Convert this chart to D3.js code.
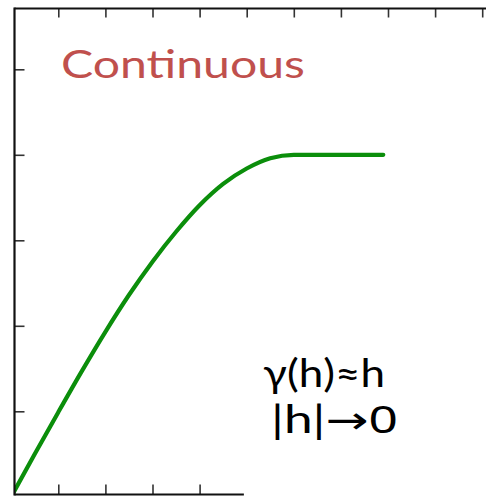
<!DOCTYPE html>
<html>
<head>
<meta charset="utf-8">
<script src="https://cdn.jsdelivr.net/npm/d3@7/dist/d3.min.js"></script>
<style>
  html, body { margin: 0; padding: 0; background: #fff; }
  svg { display: block; }
</style>
</head>
<body>
<svg id="chart" width="486" height="496"></svg>
<script>
// Spherical-type semivariogram: lag h vs. semivariance γ(h)
const lagValues   = [0, 0.5, 1, 1.5, 2, 2.5, 3, 3.5, 4, 4.5, 5, 5.5, 6, 7.9];
const gammaValues = [0, 0.50, 0.99, 1.47, 1.93, 2.36, 2.75, 3.10, 3.41, 3.66, 3.84, 3.96, 4.0, 4.0];

const topTicks    = [1, 2, 3, 4, 5, 6, 7, 8, 9, 10];
const bottomTicks = [1, 2, 3, 4];
const leftTicks   = [1, 2, 3, 4, 5];

const titleText = "Continuous";
// each annotation line split into runs; some runs use a different font
const noteLines = [
  [{ t: "γ(h)≈h" }],
  [{ t: "|h|" }, { t: "→", font: "'DejaVu Sans', sans-serif" }, { t: "0", font: "'Noto Sans', sans-serif" }]
];

const svg = d3.select("#chart");

const x = d3.scaleLinear().domain([0, 10]).range([11.2, 482.2]);
const y = d3.scaleLinear().domain([0, 5]).range([496.8, 69.3]);

// frame extents
const frameLeft = 14.5, frameTop = 8.5, frameBottom = 494.5;
const bottomEnd = x(4.94);

// clip the curve to the plotting frame
svg.append("defs").append("clipPath").attr("id", "plotClip")
  .append("rect")
  .attr("x", frameLeft).attr("y", frameTop)
  .attr("width", 486 - frameLeft).attr("height", frameBottom - frameTop);

// axes (ticks only, pointing inward)
const tickColor = "#333";
const gTop = svg.append("g").attr("transform", `translate(0,${frameTop})`)
  .call(d3.axisTop(x).tickValues(topTicks).tickSize(-9).tickFormat(""));
const gBottom = svg.append("g").attr("transform", `translate(0,${frameBottom})`)
  .call(d3.axisBottom(x).tickValues(bottomTicks).tickSize(-10).tickFormat(""));
const gLeft = svg.append("g").attr("transform", `translate(${frameLeft},0)`)
  .call(d3.axisLeft(y).tickValues(leftTicks).tickSize(-10).tickFormat(""));

[gTop, gBottom, gLeft].forEach(g => {
  g.select(".domain").remove();
  g.selectAll(".tick line").attr("stroke", tickColor).attr("stroke-width", 1.6);
});

// curve
const line = d3.line()
  .x((d, i) => x(lagValues[i]))
  .y(d => y(d))
  .curve(d3.curveMonotoneX);

svg.append("path")
  .datum(gammaValues)
  .attr("clip-path", "url(#plotClip)")
  .attr("d", line)
  .attr("fill", "none")
  .attr("stroke", "#0b8e0b")
  .attr("stroke-width", 4.2)
  .attr("stroke-linecap", "round")
  .attr("stroke-linejoin", "round");

// frame lines
const axisColor = "#111";
svg.append("line").attr("x1", frameLeft).attr("x2", frameLeft)
  .attr("y1", frameTop - 1).attr("y2", frameBottom + 1)
  .attr("stroke", axisColor).attr("stroke-width", 2.2);
svg.append("line").attr("x1", frameLeft).attr("x2", 486)
  .attr("y1", frameTop).attr("y2", frameTop)
  .attr("stroke", axisColor).attr("stroke-width", 2.2);
svg.append("line").attr("x1", frameLeft).attr("x2", bottomEnd)
  .attr("y1", frameBottom).attr("y2", frameBottom)
  .attr("stroke", axisColor).attr("stroke-width", 2.2);

// title
svg.append("text")
  .attr("x", 61).attr("y", 78)
  .attr("font-family", "Lato, 'Open Sans', sans-serif")
  .attr("font-size", 38)
  .attr("fill", "#c0504d")
  .attr("textLength", 244)
  .attr("lengthAdjust", "spacingAndGlyphs")
  .text(titleText);

// annotation
const noteX = [263, 271];
const noteY = [387, 433];
const noteW = [122, 127];
noteLines.forEach((runs, i) => {
  const txt = svg.append("text")
    .attr("x", noteX[i]).attr("y", noteY[i])
    .attr("font-family", "Lato, 'Open Sans', sans-serif")
    .attr("font-size", 38)
    .attr("fill", "#000")
    .attr("textLength", noteW[i])
    .attr("lengthAdjust", "spacingAndGlyphs");
  runs.forEach(r => {
    const ts = txt.append("tspan").text(r.t);
    if (r.font) ts.attr("font-family", r.font);
  });
});
</script>
</body>
</html>
